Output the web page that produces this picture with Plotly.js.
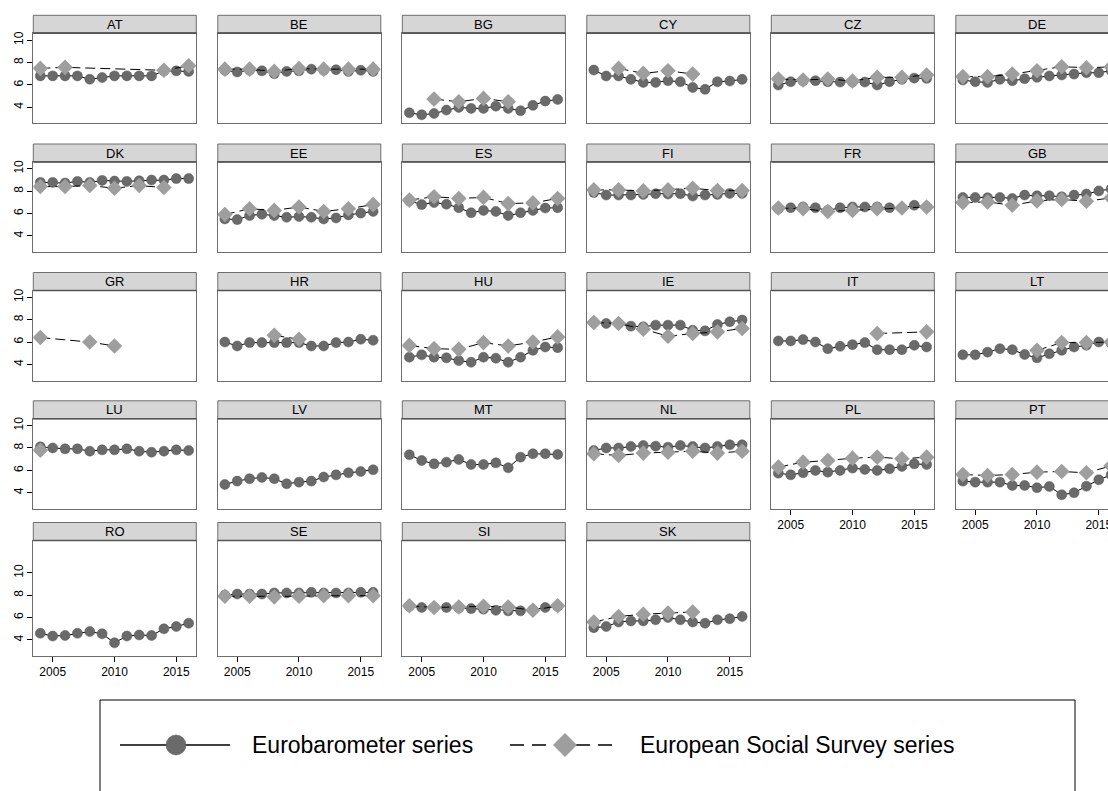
<!DOCTYPE html>
<html><head><meta charset="utf-8">
<script src="https://cdn.plot.ly/plotly-3.0.1.min.js"></script>
<style>html,body{margin:0;padding:0;overflow:hidden;background:#fff}#chart{width:1125px;height:791px}</style>
</head><body><div id="chart"></div>
<script>
const years = [2004,2005,2006,2007,2008,2009,2010,2011,2012,2013,2014,2015,2016];
const essYears = [2004,2006,2008,2010,2012,2014,2016];
const countries = ["AT","BE","BG","CY","CZ","DE","DK","EE","ES","FI","FR","GB","GR","HR","HU","IE","IT","LT","LU","LV","MT","NL","PL","PT","RO","SE","SI","SK"];
const yTicks = [4,6,8,10];
const xTicks = [2005,2010,2015];
const legendLabels = ["Eurobarometer series","European Social Survey series"];
const N = null;

const EB_AT = [6.8,6.8,6.8,6.8,6.5,6.65,6.8,6.8,6.8,6.8,7.25,7.25,7.2];
const ESS_AT = [7.47,7.56,N,N,N,7.3,7.7];
const EB_BE = [7.3,7.15,7.3,7.25,7.0,7.2,7.25,7.4,7.3,7.35,7.2,7.3,7.2];
const ESS_BE = [7.4,7.4,7.2,7.45,7.4,7.4,7.4];
const EB_BG = [3.51,3.33,3.45,3.75,3.99,3.9,3.9,4.1,3.9,3.69,4.17,4.55,4.7];
const ESS_BG = [N,4.73,4.49,4.79,4.49,N,N];
const EB_CY = [7.32,6.79,6.79,6.49,6.22,6.22,6.37,6.28,5.77,5.6,6.28,6.34,6.49];
const ESS_CY = [N,7.47,7.02,7.26,6.96,N,N];
const EB_CZ = [5.98,6.28,6.34,6.37,6.28,6.25,6.25,6.25,5.98,6.28,6.49,6.6,6.58];
const ESS_CZ = [6.52,6.43,6.52,6.34,6.67,6.67,6.88];
const EB_DE = [6.43,6.28,6.22,6.49,6.37,6.55,6.67,6.79,6.88,6.96,7.08,7.08,7.26];
const ESS_DE = [6.73,6.73,6.96,7.26,7.62,7.53,7.6];
const EB_DK = [8.78,8.78,8.72,8.87,8.78,8.96,8.9,8.87,8.93,8.99,8.99,9.12,9.12];
const ESS_DK = [8.41,8.41,8.5,8.26,8.5,8.32,N];
const EB_EE = [5.52,5.46,5.82,5.94,5.82,5.67,5.73,5.67,5.52,5.61,5.88,6.04,6.19];
const ESS_EE = [5.91,6.43,6.28,6.59,6.19,6.43,6.8];
const EB_ES = [7.13,6.8,6.98,6.83,6.52,6.07,6.28,6.19,5.82,6.07,6.28,6.49,6.52];
const ESS_ES = [7.2,7.5,7.35,7.44,6.89,6.95,7.35];
const EB_FI = [7.87,7.65,7.65,7.65,7.71,7.77,7.74,7.77,7.56,7.65,7.71,7.8,7.8];
const ESS_FI = [8.11,8.11,8.02,8.11,8.26,8.05,8.05];
const EB_FR = [6.43,6.52,6.59,6.52,6.28,6.52,6.59,6.59,6.59,6.52,6.49,6.74,6.59];
const ESS_FR = [6.49,6.43,6.19,6.28,6.43,6.49,6.59];
const EB_GB = [7.44,7.44,7.41,7.44,7.35,7.65,7.59,7.59,7.5,7.65,7.74,8.02,8.2];
const ESS_GB = [6.98,7.04,6.74,7.13,7.26,7.1,7.4];
const EB_GR = [N,N,N,N,N,N,N,N,N,N,N,N,N];
const ESS_GR = [6.4,N,6.0,5.65,N,N,N];
const EB_HR = [6.0,5.65,5.95,5.95,5.95,5.95,5.95,5.65,5.65,5.95,6.0,6.25,6.16];
const ESS_HR = [N,N,6.6,6.25,N,N,N];
const EB_HU = [4.65,4.86,4.65,4.59,4.35,4.2,4.65,4.56,4.2,4.65,5.26,5.56,5.5];
const ESS_HU = [5.7,5.41,5.35,5.95,5.65,6.0,6.46];
const EB_IE = [7.75,7.66,7.66,7.42,7.36,7.51,7.51,7.51,7.06,7.0,7.57,7.81,7.96];
const ESS_IE = [7.75,7.66,7.15,6.52,6.76,6.91,7.21];
const EB_IT = [6.1,6.1,6.22,6.0,5.41,5.62,5.77,5.95,5.32,5.32,5.32,5.71,5.56];
const ESS_IT = [N,N,N,N,6.76,N,6.91];
const EB_LT = [4.86,4.86,5.1,5.41,5.32,4.89,4.59,4.95,5.26,5.56,5.71,6.0,5.9];
const ESS_LT = [N,N,N,5.26,5.95,5.95,6.0];
const EB_LU = [8.1,8.0,7.92,7.92,7.71,7.83,7.83,7.92,7.71,7.62,7.71,7.83,7.77];
const ESS_LU = [7.8,N,N,N,N,N,N];
const EB_LV = [4.74,5.04,5.25,5.37,5.25,4.8,4.95,5.04,5.4,5.6,5.78,5.9,6.05];
const ESS_LV = [N,N,N,N,N,N,N];
const EB_MT = [7.39,6.88,6.58,6.73,6.97,6.52,6.52,6.67,6.23,7.18,7.48,7.48,7.42];
const ESS_MT = [N,N,N,N,N,N,N];
const EB_NL = [7.77,8.0,8.0,8.13,8.22,8.16,8.07,8.22,8.13,8.0,8.13,8.28,8.28];
const ESS_NL = [7.48,7.33,7.54,7.62,7.71,7.54,7.71];
const EB_PL = [5.75,5.6,5.78,5.99,5.84,5.99,6.2,6.08,5.99,6.14,6.35,6.58,6.52];
const ESS_PL = [6.29,6.73,6.88,7.09,7.18,7.03,7.18];
const EB_PT = [5.04,4.95,4.95,4.95,4.65,4.65,4.45,4.56,3.82,4.0,4.59,5.16,5.6];
const ESS_PT = [5.63,5.54,5.63,5.84,5.9,5.78,6.4];
const EB_RO = [4.6,4.35,4.4,4.6,4.75,4.55,3.75,4.35,4.45,4.4,5.0,5.2,5.5];
const ESS_RO = [N,N,N,N,N,N,N];
const EB_SE = [8.0,8.1,8.1,8.1,8.2,8.2,8.2,8.25,8.2,8.2,8.2,8.25,8.25];
const ESS_SE = [7.9,7.9,7.85,7.9,7.95,7.95,7.95];
const EB_SI = [7.0,6.9,6.9,6.9,6.85,6.8,6.75,6.65,6.6,6.6,6.7,6.9,7.0];
const ESS_SI = [7.05,6.9,6.95,7.0,6.95,6.65,7.05];
const EB_SK = [5.1,5.2,5.6,5.7,5.7,5.8,6.0,5.8,5.6,5.5,5.8,5.9,6.1];
const ESS_SK = [5.6,6.1,6.3,6.4,6.5,N,N];

const ebData = {AT:EB_AT,BE:EB_BE,BG:EB_BG,CY:EB_CY,CZ:EB_CZ,DE:EB_DE,DK:EB_DK,EE:EB_EE,ES:EB_ES,FI:EB_FI,FR:EB_FR,GB:EB_GB,GR:EB_GR,HR:EB_HR,HU:EB_HU,IE:EB_IE,IT:EB_IT,LT:EB_LT,LU:EB_LU,LV:EB_LV,MT:EB_MT,NL:EB_NL,PL:EB_PL,PT:EB_PT,RO:EB_RO,SE:EB_SE,SI:EB_SI,SK:EB_SK};
const essData = {AT:ESS_AT,BE:ESS_BE,BG:ESS_BG,CY:ESS_CY,CZ:ESS_CZ,DE:ESS_DE,DK:ESS_DK,EE:ESS_EE,ES:ESS_ES,FI:ESS_FI,FR:ESS_FR,GB:ESS_GB,GR:ESS_GR,HR:ESS_HR,HU:ESS_HU,IE:ESS_IE,IT:ESS_IT,LT:ESS_LT,LU:ESS_LU,LV:ESS_LV,MT:ESS_MT,NL:ESS_NL,PL:ESS_PL,PT:ESS_PT,RO:ESS_RO,SE:ESS_SE,SI:ESS_SI,SK:ESS_SK};

// ---- layout geometry (pixels) ----
const W = 1125, H = 791;
const colLeft = [33.3, 217.8, 402.3, 586.8, 771.3, 955.8];
const panelW = 163;
const rowTop = [33.3, 162, 290.5, 418.8, 540.5];
const rowH = [90, 90, 90, 90, 115.5];
const rowRange = [[2.57,10.6],[2.57,10.6],[2.57,10.6],[2.57,10.6],[2.57,12.88]];
const stripH = 18;
const px = v => v / W;
const py = v => 1 - v / H;

const FONT = "Liberation Sans, Arial, Helvetica, sans-serif";
const traces = [];
const layout = {
  width: W, height: H, margin: {l:0,r:0,t:0,b:0},
  paper_bgcolor: "#fff", plot_bgcolor: "#fff",
  showlegend: false, font: {family: FONT, color: "#000"},
  shapes: [], annotations: []
};

function drop(xs, ys) {
  const ox = [], oy = [];
  ys.forEach((v,i) => { if (v !== null) { ox.push(xs[i]); oy.push(v); } });
  return [ox, oy];
}

countries.forEach((c, i) => {
  const r = Math.floor(i / 6), col = i % 6;
  const n = i + 1;
  const xa = n === 1 ? "x" : "x" + n, ya = n === 1 ? "y" : "y" + n;
  const x0 = colLeft[col], x1 = x0 + panelW, y0 = rowTop[r], y1 = y0 + rowH[r];
  const showX = (r === 4) || (r === 3 && col >= 4);
  const showY = col === 0;
  layout[n === 1 ? "xaxis" : "xaxis" + n] = {
    domain: [px(x0), px(x1)], anchor: ya, range: [2003.43, 2016.62],
    showgrid: false, zeroline: false, showline: true, mirror: true,
    linecolor: "#6e6e6e", linewidth: 1,
    tickvals: showX ? xTicks : [], ticks: showX ? "outside" : "", ticklen: 5, tickcolor: "#000",
    showticklabels: showX, tickfont: {size: 12, family: FONT, color: "#000"}, fixedrange: true
  };
  layout[n === 1 ? "yaxis" : "yaxis" + n] = {
    domain: [py(y1), py(y0)], anchor: xa, range: rowRange[r],
    showgrid: false, zeroline: false, showline: true, mirror: true,
    linecolor: "#6e6e6e", linewidth: 1,
    tickvals: showY ? yTicks : [], ticks: showY ? "outside" : "", ticklen: 5, tickcolor: "#000",
    showticklabels: showY, tickangle: -90, tickfont: {size: 12, family: FONT, color: "#000"}, fixedrange: true
  };
  // strip
  layout.shapes.push({type:"rect", xref:"paper", yref:"paper", x0:px(x0), x1:px(x1), y0:py(y0), y1:py(y0-stripH),
    fillcolor:"#d6d6d6", line:{color:"#6e6e6e", width:1}, layer:"below"});
  layout.shapes.push({type:"line", xref:"paper", yref:"paper", x0:px(x0), x1:px(x1), y0:py(y0), y1:py(y0),
    line:{color:"#555", width:1.5}});
  layout.annotations.push({xref:"paper", yref:"paper", x:px((x0+x1)/2), y:py(y0 - stripH/2), text:c,
    showarrow:false, xanchor:"center", yanchor:"middle", font:{size:13, family:FONT, color:"#000"}});

  const [ex, ey] = drop(years, ebData[c]);
  traces.push({x: ex, y: ey, xaxis: xa, yaxis: ya, type: "scatter", mode: "lines+markers",
    line: {color: "#000", width: 1}, marker: {symbol: "circle", size: 10, color: "#6a6a6a", line: {color: "#555", width: 0.5}},
    hoverinfo: "skip"});
  const [sx, sy] = drop(essYears, essData[c]);
  traces.push({x: sx, y: sy, xaxis: xa, yaxis: ya, type: "scatter", mode: "lines+markers",
    line: {color: "#000", width: 1, dash: "10px,5px"}, marker: {symbol: "diamond", size: 12, color: "#9e9e9e", line: {width: 0}},
    hoverinfo: "skip"});
});

// legend box (drawn as a key, not data)
const LB = {x0: 100, x1: 1075, y0: 700, y1: 800};
layout.shapes.push({type:"rect", xref:"paper", yref:"paper", x0:px(LB.x0), x1:px(LB.x1), y0:py(LB.y1), y1:py(LB.y0),
  line:{color:"#000", width:1}, fillcolor:"rgba(0,0,0,0)"});
const ly = 745;
layout.shapes.push({type:"line", xref:"paper", yref:"paper", x0:px(120), x1:px(230), y0:py(ly), y1:py(ly), line:{color:"#000", width:1.5}});
layout.shapes.push({type:"circle", xref:"paper", yref:"paper", x0:px(166), x1:px(186), y0:py(ly+10), y1:py(ly-10), fillcolor:"#6a6a6a", line:{color:"#555", width:0.5}});
layout.shapes.push({type:"line", xref:"paper", yref:"paper", x0:px(510), x1:px(620), y0:py(ly), y1:py(ly), line:{color:"#000", width:1.5, dash:"14px,8px"}});
layout.shapes.push({type:"path", xref:"paper", yref:"paper",
  path: `M ${px(565)} ${py(ly-12)} L ${px(577)} ${py(ly)} L ${px(565)} ${py(ly+12)} L ${px(553)} ${py(ly)} Z`,
  fillcolor:"#9e9e9e", line:{width:0}});
layout.annotations.push({xref:"paper", yref:"paper", x:px(250), y:py(ly), text:legendLabels[0], showarrow:false,
  xanchor:"left", yanchor:"middle", font:{size:23, family:FONT, color:"#000"}});
layout.annotations.push({xref:"paper", yref:"paper", x:px(638), y:py(ly), text:legendLabels[1], showarrow:false,
  xanchor:"left", yanchor:"middle", font:{size:23, family:FONT, color:"#000"}});

Plotly.newPlot("chart", traces, layout, {staticPlot: true, displayModeBar: false});
</script></body></html>
